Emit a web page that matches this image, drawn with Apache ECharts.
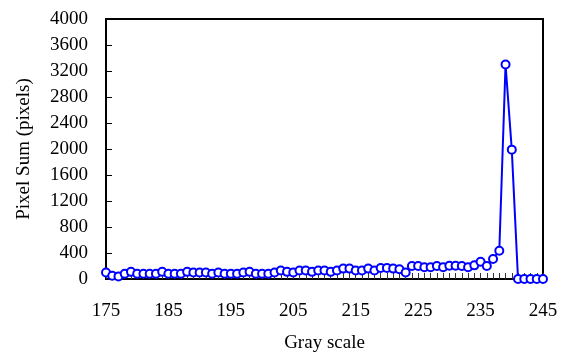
<!DOCTYPE html>
<html><head><meta charset="utf-8">
<script src="https://cdn.jsdelivr.net/npm/echarts@6/dist/echarts.min.js"></script>
<style>html,body{margin:0;padding:0;background:#fff}#c{width:565px;height:352px}</style>
</head><body><div id="c"></div>
<script>
var grayLevels = [175,176,177,178,179,180,181,182,183,184,185,186,187,188,189,190,191,192,193,194,195,196,197,198,199,200,201,202,203,204,205,206,207,208,209,210,211,212,213,214,215,216,217,218,219,220,221,222,223,224,225,226,227,228,229,230,231,232,233,234,235,236,237,238,239,240,241,242,243,244,245];
var pixelSums = [100,50,40,80,110,80,80,80,80,110,80,80,80,110,100,100,100,80,100,80,80,80,100,110,80,80,80,100,130,110,100,130,130,110,130,130,110,130,160,160,130,130,160,130,170,170,160,150,100,200,200,180,180,200,180,205,205,200,180,210,265,200,308,435,3300,1990,0,0,0,0,0];
var xTicks = {min:175, max:245, step:10};
var yTicks = {min:0, max:4000, step:400};

var chart = echarts.init(document.getElementById('c'), null, {renderer:'canvas'});
var font = '"Liberation Serif","Times New Roman",serif';
chart.setOption({
  animation:false,
  grid:{left:106, top:19, right:22, bottom:73, containLabel:false, outerBoundsMode:'none', show:true, borderColor:'#000', borderWidth:2, backgroundColor:'transparent'},
  xAxis:{
    type:'value', min:xTicks.min, max:xTicks.max, interval:xTicks.step,
    name:'Gray scale', nameLocation:'middle', nameGap:55,
    nameTextStyle:{fontFamily:font, fontSize:19, color:'#000'},
    axisLine:{show:true, lineStyle:{color:'#000', width:2}},
    axisTick:{show:true, inside:true, length:6, lineStyle:{color:'#333', width:1}},
    minorTick:{show:true, splitNumber:10, length:6, lineStyle:{color:'#333', width:1}},
    axisLabel:{fontFamily:font, fontSize:19, color:'#000', margin:23, formatter:function(v){return String(v);}},
    splitLine:{show:false}
  },
  yAxis:{
    type:'value', min:yTicks.min, max:yTicks.max, interval:yTicks.step,
    name:'Pixel Sum (pixels)', nameLocation:'middle', nameGap:72, nameRotate:90,
    nameTextStyle:{fontFamily:font, fontSize:19, color:'#000'},
    axisLine:{show:true, lineStyle:{color:'#000', width:2}},
    axisTick:{show:true, inside:true, length:6, lineStyle:{color:'#000', width:1}},
    axisLabel:{fontFamily:font, fontSize:19, color:'#000', margin:18, formatter:function(v){return String(v);}},
    splitLine:{show:false}
  },
  series:[{
    type:'line',
    data:grayLevels.map(function(g,i){return [g, pixelSums[i]];}),
    symbol:'emptyCircle', symbolSize:8,
    lineStyle:{color:'#0000ff', width:2},
    itemStyle:{color:'#0000ff', borderColor:'#0000ff', borderWidth:2}
  }]
});
</script></body></html>
